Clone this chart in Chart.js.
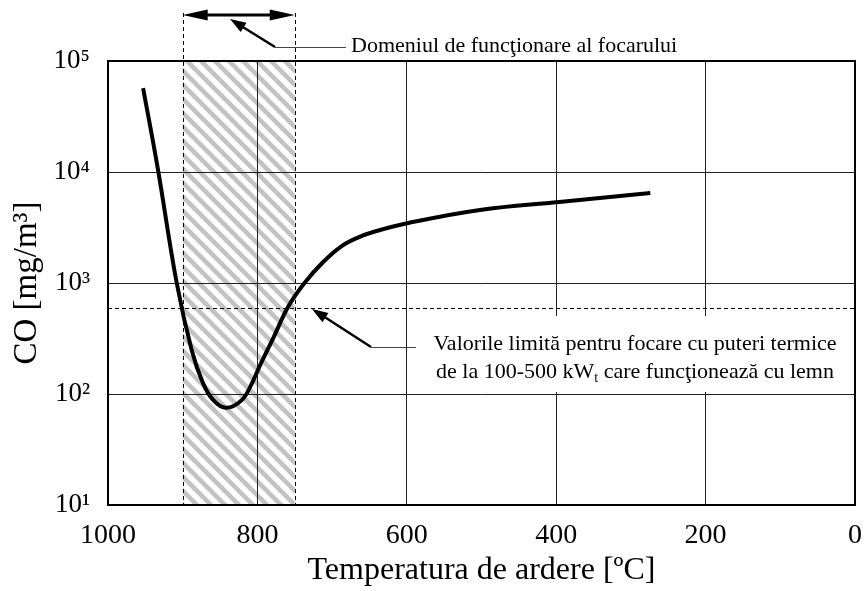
<!DOCTYPE html>
<html><head><meta charset="utf-8">
<script src="https://cdn.jsdelivr.net/npm/chart.js@4/dist/chart.umd.min.js"></script>
<style>html,body{margin:0;padding:0;background:#fff;overflow:hidden}</style>
</head><body>
<canvas id="c" width="867" height="591"></canvas>
<script>
// ---- data ----
const temperatures = [953, 933, 908, 888, 873, 859, 842, 821, 807, 797, 778, 759, 737, 712, 689, 667, 645, 598, 502, 396, 274];
const coValues     = [57000, 10400, 1000, 249, 126, 88, 75, 88, 126, 178, 327, 608, 1000, 1545, 2110, 2540, 2880, 3470, 4550, 5370, 6470];
const xTickValues = [0, 200, 400, 600, 800, 1000];
const xTickLabels = ['0', '200', '400', '600', '800', '1000'];
const yTickValues = [10, 100, 1000, 10000, 100000];
const yTickLabels = ['10\u00B9', '10\u00B2', '10\u00B3', '10\u2074', '10\u2075'];
const operatingRange = [900, 750];
const limitValue = [600];
const xTitle = 'Temperatura de ardere [\u00BAC]';
const yTitle = 'CO [mg/m\u00B3]';
const rangeLabel = 'Domeniul de func\u0163ionare al focarului';
const limitLabelLine1 = 'Valorile limit\u0103 pentru focare cu puteri termice';
const limitLabelLine2 = ['de la 100-500 kW', 't', ' care func\u0163ioneaz\u0103 cu lemn'];

const SERIF = "'Liberation Serif', 'Times New Roman', serif";

function makeHatch(ctx) {
  const p = document.createElement('canvas');
  p.width = 14; p.height = 14;
  const c = p.getContext('2d');
  c.strokeStyle = '#c2c2c2';
  c.lineWidth = 4.5;
  c.beginPath();
  for (const o of [-14, 0, 14]) { c.moveTo(o - 3, -3); c.lineTo(o + 17, 17); }
  c.stroke();
  return ctx.createPattern(p, 'repeat');
}

function arrowHead(ctx, tipX, tipY, fromX, fromY, len, half) {
  const a = Math.atan2(tipY - fromY, tipX - fromX);
  const bx = tipX - len * Math.cos(a), by = tipY - len * Math.sin(a);
  const nx = -Math.sin(a), ny = Math.cos(a);
  ctx.beginPath();
  ctx.moveTo(tipX, tipY);
  ctx.lineTo(bx + nx * half, by + ny * half);
  ctx.lineTo(bx - nx * half, by - ny * half);
  ctx.closePath();
  ctx.fill();
}

const annotations = {
  id: 'annotations',
  beforeDraw(chart) {
    const {ctx, chartArea: a, scales: {x}} = chart;
    const x1 = x.getPixelForValue(operatingRange[0]);
    const x2 = x.getPixelForValue(operatingRange[1]);
    ctx.save();
    ctx.fillStyle = makeHatch(ctx);
    ctx.fillRect(x1, a.top, x2 - x1, a.bottom - a.top);
    ctx.restore();
  },
  afterDraw(chart) {
    const {ctx, chartArea: a, scales: {x, y}} = chart;
    const x1 = x.getPixelForValue(operatingRange[0]);
    const x2 = x.getPixelForValue(operatingRange[1]);
    const yl = y.getPixelForValue(limitValue[0]);
    ctx.save();
    // white box behind limit label
    ctx.fillStyle = '#fff';
    ctx.fillRect(417, 316, a.right - 419, 76);
    // dashed lines
    ctx.strokeStyle = '#000';
    ctx.lineWidth = 1;
    ctx.setLineDash([4, 3]);
    ctx.beginPath();
    ctx.moveTo(Math.round(x1) + 0.5, 13); ctx.lineTo(Math.round(x1) + 0.5, a.bottom);
    ctx.moveTo(Math.round(x2) + 0.5, 13); ctx.lineTo(Math.round(x2) + 0.5, a.bottom);
    ctx.moveTo(a.left, Math.round(yl) + 0.5); ctx.lineTo(a.right, Math.round(yl) + 0.5);
    ctx.stroke();
    ctx.setLineDash([]);
    // frame
    ctx.lineWidth = 2;
    ctx.strokeRect(a.left, a.top, a.right - a.left, a.bottom - a.top);
    // double arrow
    ctx.fillStyle = '#000';
    ctx.lineWidth = 3;
    ctx.beginPath();
    ctx.moveTo(x1 + 10, 15); ctx.lineTo(x2 - 10, 15);
    ctx.stroke();
    arrowHead(ctx, x1, 15, x1 + 10, 15, 25, 5.5);
    arrowHead(ctx, x2, 15, x2 - 10, 15, 25, 5.5);
    // leader 1
    ctx.lineWidth = 2.5;
    ctx.beginPath(); ctx.moveTo(275, 47); ctx.lineTo(238, 24); ctx.stroke();
    arrowHead(ctx, 230, 19, 275, 47, 16, 5.5);
    ctx.lineWidth = 1; ctx.strokeStyle = '#444';
    ctx.beginPath(); ctx.moveTo(275, 47.5); ctx.lineTo(346, 47.5); ctx.stroke();
    // leader 2
    ctx.strokeStyle = '#000';
    ctx.lineWidth = 2.5;
    ctx.beginPath(); ctx.moveTo(371, 347); ctx.lineTo(320, 314); ctx.stroke();
    arrowHead(ctx, 312, 309, 371, 347, 16, 5.5);
    ctx.lineWidth = 1; ctx.strokeStyle = '#444';
    ctx.beginPath(); ctx.moveTo(371, 347.5); ctx.lineTo(416, 347.5); ctx.stroke();
    // texts
    ctx.fillStyle = '#000';
    ctx.font = '22px ' + SERIF;
    ctx.textBaseline = 'alphabetic';
    ctx.textAlign = 'left';
    ctx.fillText(rangeLabel, 351, 52);
    ctx.textAlign = 'center';
    ctx.fillText(limitLabelLine1, 635, 350);
    ctx.textAlign = 'left';
    const subFont = '14px ' + SERIF;
    ctx.font = '22px ' + SERIF;
    const w0 = ctx.measureText(limitLabelLine2[0]).width;
    const w2 = ctx.measureText(limitLabelLine2[2]).width;
    ctx.font = subFont;
    const w1 = ctx.measureText(limitLabelLine2[1]).width;
    let sx = 635 - (w0 + w1 + w2) / 2;
    ctx.font = '22px ' + SERIF;
    ctx.fillText(limitLabelLine2[0], sx, 378);
    ctx.font = subFont;
    ctx.fillText(limitLabelLine2[1], sx + w0, 382);
    ctx.font = '22px ' + SERIF;
    ctx.fillText(limitLabelLine2[2], sx + w0 + w1, 378);
    ctx.restore();
  }
};

new Chart(document.getElementById('c'), {
  type: 'line',
  data: {
    datasets: [{
      data: temperatures.map((t, i) => ({x: t, y: coValues[i]})),
      borderColor: '#000',
      borderWidth: 4,
      pointRadius: 0,
      fill: false,
      tension: 0.4
    }]
  },
  options: {
    responsive: false,
    animation: false,
    devicePixelRatio: 1,
    layout: {padding: {top: 61, right: 12, left: 0, bottom: 0}},
    plugins: {legend: {display: false}, tooltip: {enabled: false}},
    scales: {
      x: {
        type: 'linear', min: 0, max: 1000, reverse: true,
        afterBuildTicks: s => { s.ticks = xTickValues.map(v => ({value: v})); },
        afterFit: s => { s.height = 86; s.paddingLeft = 0; s.paddingRight = 0; },
        grid: {color: '#222', lineWidth: 1, drawTicks: false},
        border: {display: false},
        ticks: {
          color: '#000', font: {family: SERIF, size: 28}, padding: 14,
          maxRotation: 0, autoSkip: false,
          callback: (v) => xTickLabels[xTickValues.indexOf(v)]
        },
        title: {display: true, text: xTitle, color: '#000', font: {family: SERIF, size: 32}, padding: {top: 0, bottom: 1}}
      },
      y: {
        type: 'logarithmic', min: 10, max: 100000,
        afterBuildTicks: s => { s.ticks = yTickValues.map(v => ({value: v})); },
        afterFit: s => { s.width = 108; s.paddingTop = 0; s.paddingBottom = 0; },
        grid: {color: '#222', lineWidth: 1, drawTicks: false},
        border: {display: false},
        ticks: {
          color: '#000', font: {family: SERIF, size: 27}, padding: 18, autoSkip: false,
          callback: (v, i) => yTickLabels[i]
        },
        title: {display: true, text: yTitle, color: '#000', font: {family: SERIF, size: 33}, padding: {top: 8, bottom: 0}}
      }
    }
  },
  plugins: [annotations]
});
</script>
</body></html>
